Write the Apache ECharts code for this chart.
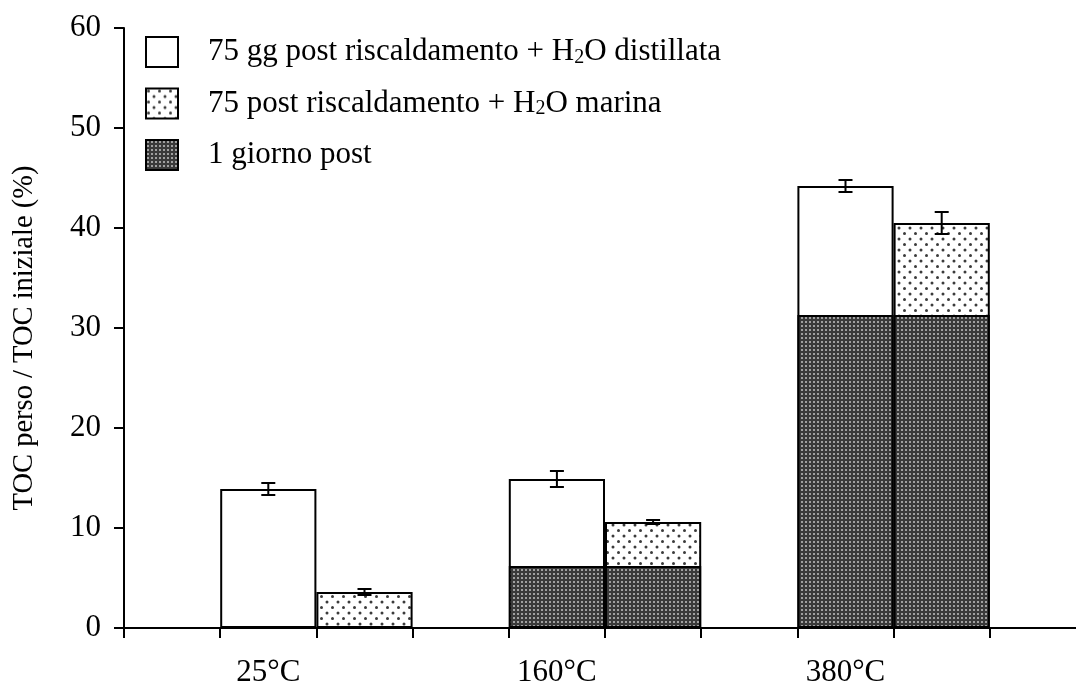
<!DOCTYPE html>
<html>
<head>
<meta charset="utf-8">
<script src="https://cdn.jsdelivr.net/npm/echarts@6/dist/echarts.min.js"></script>
<style>
  html, body { margin: 0; padding: 0; background: #ffffff; }
  #chart { width: 1076px; height: 688px; }
</style>
</head>
<body>
<div id="chart"></div>
<script>
// Temperature groups and measured TOC loss (% of initial TOC)
const temperatures = ['25°C', '160°C', '380°C'];
const distillata    = [13.9, 14.9, 44.2];   // 75 gg post riscaldamento + H2O distillata
const distillataErr = [0.6, 0.8, 0.6];
const marina        = [3.6, 10.6, 40.5];    // 75 post riscaldamento + H2O marina
const marinaErr     = [0.3, 0.2, 1.1];
const unGiorno      = [0, 6.2, 31.3];       // 1 giorno post
const yTicks = [0, 10, 20, 30, 40, 50, 60];

const seriesNames = [
  '75 gg post riscaldamento + H2O distillata',
  '75 post riscaldamento + H2O marina',
  '1 giorno post'
];

// Each temperature uses three slots on the category axis: distillata, marina, spacer.
const SLOTS = temperatures.length * 3 + 1;
const slotNames = [];
const slotLabels = [];
for (let s = 0; s < SLOTS; s++) { slotNames.push('s' + s); slotLabels.push(''); }
temperatures.forEach((t, i) => { slotLabels[3 * i + 1] = t; });

const distData = new Array(SLOTS).fill(null);
const marData = new Array(SLOTS).fill(null);
const dayData = new Array(SLOTS).fill(null);
const errData = [];
temperatures.forEach((t, i) => {
  distData[3 * i + 1] = distillata[i];
  marData[3 * i + 2] = marina[i];
  dayData[3 * i + 1] = unGiorno[i];
  dayData[3 * i + 2] = unGiorno[i];
  errData.push([3 * i + 1, distillata[i], distillataErr[i]]);
  errData.push([3 * i + 2, marina[i], marinaErr[i]]);
});

// Fill patterns
function sparseDots() {
  const c = document.createElement('canvas');
  c.width = 11; c.height = 11;
  const g = c.getContext('2d');
  g.fillStyle = '#ffffff'; g.fillRect(0, 0, 11, 11);
  g.fillStyle = '#3c3c3c';
  [[2.5, 2.5], [8, 8]].forEach(([x, y]) => { g.beginPath(); g.arc(x, y, 1.5, 0, Math.PI * 2); g.fill(); });
  return c;
}
function denseDots() {
  const c = document.createElement('canvas');
  c.width = 4; c.height = 4;
  const g = c.getContext('2d');
  g.fillStyle = '#3a3a3a'; g.fillRect(0, 0, 4, 4);
  g.fillStyle = '#a0a0a0'; g.fillRect(1, 1, 2, 2);
  return c;
}

const FONT = 'Liberation Serif';
const barCommon = {
  type: 'bar',
  barWidth: '100%',
  barGap: '-100%',
  barCategoryGap: '0%',
  animation: false
};
const border = { borderColor: '#000000', borderWidth: 2 };

const chart = echarts.init(document.getElementById('chart'), null, { renderer: 'canvas' });

chart.setOption({
  animation: false,
  backgroundColor: '#ffffff',
  grid: { left: 124, width: 962, top: 28, bottom: 60, containLabel: false, outerBoundsMode: 'none' },
  legend: {
    data: seriesNames,
    orient: 'vertical',
    left: 140,
    top: 31,
    itemWidth: 32,
    itemHeight: 30,
    itemGap: 19.5,
    icon: 'rect',
    selectedMode: false,
    formatter: function (name) {
      const i = name.indexOf('H2O');
      if (i < 0) return '{a|' + name + '}';
      return '{a|' + name.slice(0, i) + 'H}{sub|2}{a|O' + name.slice(i + 3) + '}';
    },
    textStyle: {
      padding: [0, 0, 0, 25],
      rich: {
        a: { fontFamily: FONT, fontSize: 31, color: '#000', lineHeight: 31 },
        sub: { fontFamily: FONT, fontSize: 20, color: '#000', lineHeight: 20, verticalAlign: 'bottom' }
      }
    }
  },
  xAxis: {
    type: 'category',
    data: slotNames,
    boundaryGap: true,
    axisLine: { lineStyle: { color: '#000', width: 2 } },
    axisTick: { show: true, interval: 0, length: 10, lineStyle: { color: '#000', width: 2 } },
    axisLabel: {
      interval: 0,
      margin: 29,
      fontFamily: FONT,
      fontSize: 31,
      color: '#000',
      formatter: (v, idx) => slotLabels[idx]
    },
    splitLine: { show: false }
  },
  yAxis: {
    type: 'value',
    min: yTicks[0],
    max: yTicks[yTicks.length - 1],
    interval: yTicks[1] - yTicks[0],
    name: 'TOC perso / TOC iniziale (%)',
    nameLocation: 'middle',
    nameGap: 85,
    nameTextStyle: { fontFamily: FONT, fontSize: 28.5, color: '#000', padding: [0, 20, 0, 0] },
    axisLine: { show: true, lineStyle: { color: '#000', width: 2 } },
    axisTick: { show: true, length: 10, lineStyle: { color: '#000', width: 2 } },
    axisLabel: { margin: 23, fontFamily: FONT, fontSize: 31, color: '#000' },
    splitLine: { show: false }
  },
  series: [
    Object.assign({}, barCommon, {
      name: seriesNames[0],
      data: distData,
      itemStyle: Object.assign({ color: '#ffffff' }, border),
      z: 2
    }),
    Object.assign({}, barCommon, {
      name: seriesNames[1],
      data: marData,
      itemStyle: Object.assign({ color: { image: sparseDots(), repeat: 'repeat' } }, border),
      z: 2
    }),
    Object.assign({}, barCommon, {
      name: seriesNames[2],
      data: dayData,
      itemStyle: Object.assign({ color: { image: denseDots(), repeat: 'repeat' } }, border),
      z: 3
    }),
    {
      type: 'custom',
      name: 'err',
      data: errData,
      z: 5,
      animation: false,
      renderItem: function (params, api) {
        const xi = api.value(0), v = api.value(1), e = api.value(2);
        const x = api.coord([xi, v])[0];
        const hi = api.coord([xi, v + e])[1];
        const lo = api.coord([xi, v - e])[1];
        const half = 7;
        const st = { stroke: '#000', lineWidth: 2 };
        return {
          type: 'group',
          children: [
            { type: 'line', shape: { x1: x, y1: hi, x2: x, y2: lo }, style: st },
            { type: 'line', shape: { x1: x - half, y1: hi, x2: x + half, y2: hi }, style: st },
            { type: 'line', shape: { x1: x - half, y1: lo, x2: x + half, y2: lo }, style: st }
          ]
        };
      }
    }
  ]
});
</script>
</body>
</html>
